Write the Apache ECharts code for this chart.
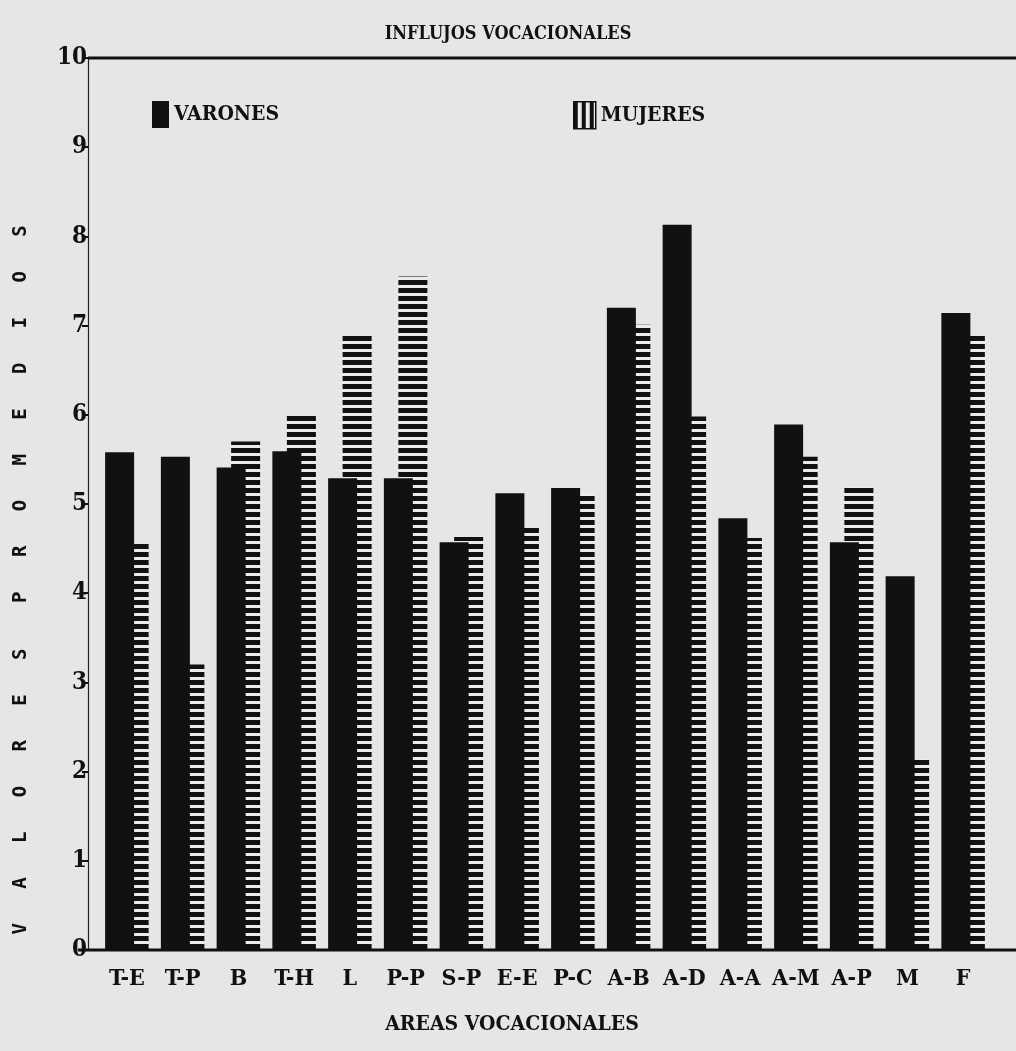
<!DOCTYPE html>
<html>
<head>
<meta charset="utf-8">
<script src="https://cdn.jsdelivr.net/npm/echarts@6/dist/echarts.min.js"></script>
<style>
html,body{margin:0;padding:0;background:#e6e6e6;}
#chart{width:1016px;height:1051px;}
</style>
</head>
<body>
<div id="chart"></div>
<script>
const categories = ['T-E','T-P','B','T-H','L','P-P','S-P','E-E','P-C','A-B','A-D','A-A','A-M','A-P','M','F'];
const varones = [5.58,5.53,5.41,5.59,5.29,5.29,4.57,5.12,5.18,7.20,8.13,4.84,5.89,4.57,4.19,7.14];
const mujeres = [4.56,3.20,5.70,5.99,6.89,7.55,4.63,4.74,5.12,7.01,5.98,4.62,5.53,5.19,2.14,6.89];
const titleText = 'INFLUJOS VOCACIONALES';
const xName = 'AREAS VOCACIONALES';
const yNameText = 'V   A   L   O   R   E   S    P   R   O   M   E   D   I   O   S';

function makePattern(horizontal){
  const c = document.createElement('canvas');
  c.width = 8; c.height = 8;
  const g = c.getContext('2d');
  g.fillStyle = '#ececec';
  g.fillRect(0,0,8,8);
  g.fillStyle = '#111';
  if (horizontal) g.fillRect(0,0,8,5); else g.fillRect(0,0,4,8);
  return {image: c, repeat: 'repeat'};
}
const hPat = makePattern(true);
const vPat = makePattern(false);

const FONT = '"DejaVu Serif Condensed", "DejaVu Serif", serif';

const chart = echarts.init(document.getElementById('chart'), null, {renderer:'canvas'});
chart.setOption({
  backgroundColor: '#e6e6e6',
  animation: false,
  title: {
    text: titleText, left: 'center', top: 20,
    textStyle: {fontFamily: FONT, fontWeight: 'bold', fontSize: 18, color: '#111'}
  },
  legend: [
    {left: 147, top: 96, itemWidth: 17, itemHeight: 27, itemGap: 6, icon: 'rect',
     data: ['VARONES'],
     textStyle: {fontFamily: FONT, fontWeight: 'bold', fontSize: 21, color: '#111'}},
    {left: 568, top: 96, itemWidth: 22, itemHeight: 27, itemGap: 6, icon: 'rect',
     data: [{name: 'MUJERES', itemStyle: {color: vPat, borderColor: '#111', borderWidth: 1.5}}],
     textStyle: {fontFamily: FONT, fontWeight: 'bold', fontSize: 21, color: '#111'}}
  ],
  grid: {left: 99, right: 25, top: 58, bottom: 101, containLabel: false},
  xAxis: {
    type: 'category', data: categories,
    axisLine: {show: false}, axisTick: {show: false},
    axisLabel: {fontFamily: FONT, fontWeight: 'bold', fontSize: 23, color: '#111', margin: 18, interval: 0}
  },
  yAxis: {
    type: 'value', min: 0, max: 10, interval: 1, offset: 11,
    axisLine: {show: true, lineStyle: {color: '#222', width: 1.2}},
    axisTick: {show: true, length: 6, inside: false, lineStyle: {color: '#111', width: 2}},
    axisLabel: {fontFamily: FONT, fontWeight: 'bold', fontSize: 24, color: '#111', margin: 1},
    splitLine: {show: false}
  },
  graphic: [
    {type: 'line', shape: {x1: 88, y1: 58, x2: 1016, y2: 58}, style: {stroke: '#111', lineWidth: 3}, z: 10},
    {type: 'line', shape: {x1: 78, y1: 950, x2: 1016, y2: 950}, style: {stroke: '#111', lineWidth: 3}, z: 10},
    {type: 'text', x: 512, y: 1025,
     style: {text: xName, fontFamily: FONT, fontWeight: 'bold', fontSize: 21, fill: '#111',
             textAlign: 'center', textVerticalAlign: 'middle'}},
    {type: 'text', x: 21, y: 580, rotation: Math.PI/2,
     style: {text: yNameText, fontFamily: '"DejaVu Sans Mono", monospace', fontWeight: 'bold', fontSize: 19,
             fill: '#111', textAlign: 'center', textVerticalAlign: 'middle'}}
  ],
  series: [
    {name: 'VARONES', type: 'bar', data: varones, barWidth: 29, barGap: '-50%', z: 3,
     itemStyle: {color: '#111'}},
    {name: 'MUJERES', type: 'bar', data: mujeres, barWidth: 29, barGap: '-50%', z: 2,
     itemStyle: {color: hPat}}
  ]
});
</script>
</body>
</html>
